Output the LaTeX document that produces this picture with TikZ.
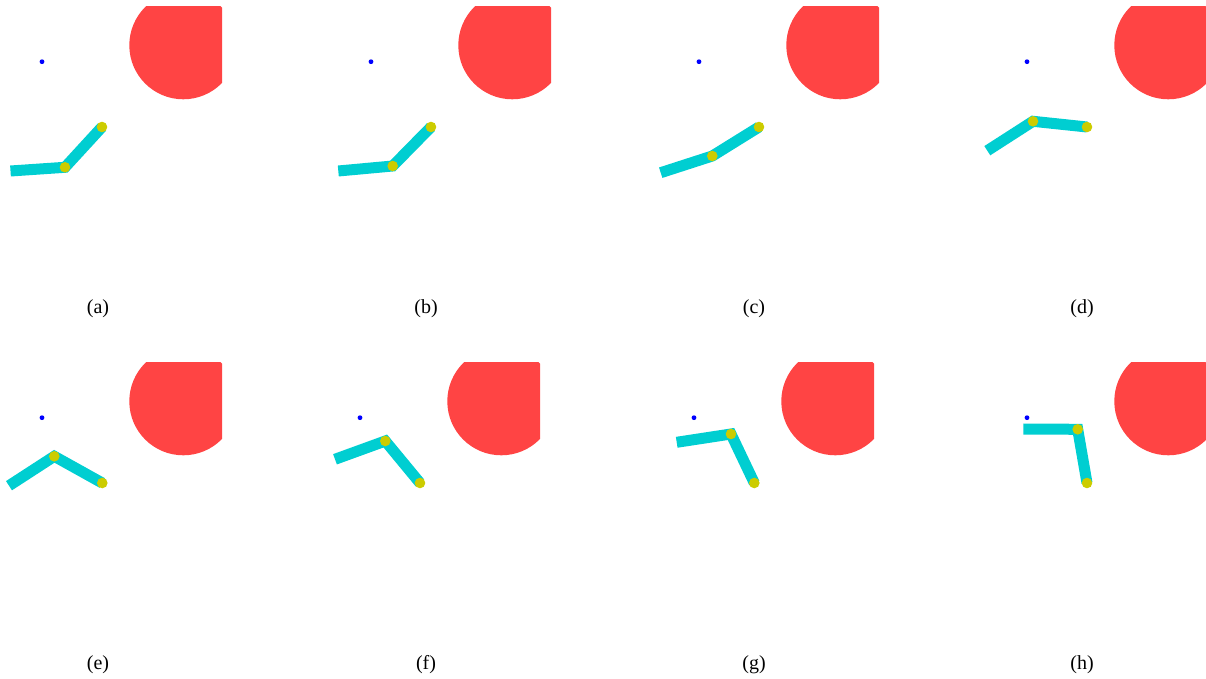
\documentclass[tikz,border=0pt]{standalone}
\usepackage{fontspec}
\setmainfont{Liberation Serif}
\definecolor{obstacle}{HTML}{FF4444}
\definecolor{linkcyan}{HTML}{00CED1}
\definecolor{jointyellow}{HTML}{CCCC00}
\begin{document}
\begin{tikzpicture}[x=0.5pt, y=-0.5pt]
    % Styles
    \tikzstyle{link} = [draw=linkcyan, line width=5.5pt, line cap=butt]
    \tikzstyle{joint} = [circle, fill=jointyellow, inner sep=0pt, minimum size=5.3pt]
    \tikzstyle{target} = [circle, fill=blue, inner sep=0pt, minimum size=2.4pt]
    \tikzstyle{caption} = [font=\normalsize]
    \tikzstyle{panelclip} = []

    \useasboundingbox (0,0) rectangle (1206,679);

    % === TOP ROW ===
    % Panel (a)
    \begin{scope}[shift={(0,0)}]
        \clip (-10,6.7) rectangle (222,290);
        \fill [obstacle] (183.3,45.3) circle [radius=54];
        \node [target] (goala) at (42,61.7) {};
        \coordinate (basea) at (10.5,171);
        \coordinate (elbowa) at (65,167.3);
        \coordinate (tipa) at (102,127);
        \draw [link] (basea) -- (elbowa) -- (tipa);
        \node [joint] (elbowja) at (elbowa) {};
        \node [joint] (tipja) at (tipa) {};
    \end{scope}

    % Panel (b)
    \begin{scope}[shift={(329,0)}]
        \clip (-10,6.7) rectangle (222,290);
        \fill [obstacle] (183.3,45.3) circle [radius=54];
        \node [target] (goalb) at (42,61.7) {};
        \coordinate (baseb) at (9.3,171);
        \coordinate (elbowb) at (63.7,166);
        \coordinate (tipb) at (102,127);
        \draw [link] (baseb) -- (elbowb) -- (tipb);
        \node [joint] (elbowjb) at (elbowb) {};
        \node [joint] (tipjb) at (tipb) {};
    \end{scope}

    % Panel (c)
    \begin{scope}[shift={(657,0)}]
        \clip (-10,6.7) rectangle (222,290);
        \fill [obstacle] (183.3,45.3) circle [radius=54];
        \node [target] (goalc) at (42,61.7) {};
        \coordinate (basec) at (3.7,172.7);
        \coordinate (elbowc) at (55.3,156);
        \coordinate (tipc) at (102,127);
        \draw [link] (basec) -- (elbowc) -- (tipc);
        \node [joint] (elbowjc) at (elbowc) {};
        \node [joint] (tipjc) at (tipc) {};
    \end{scope}

    % Panel (d)
    \begin{scope}[shift={(985,0)}]
        \clip (-10,6.7) rectangle (222,290);
        \fill [obstacle] (183.3,45.3) circle [radius=54];
        \node [target] (goald) at (42,61.7) {};
        \coordinate (based) at (2.3,150.7);
        \coordinate (elbowd) at (48,121.3);
        \coordinate (tipd) at (102,127);
        \draw [link] (based) -- (elbowd) -- (tipd);
        \node [joint] (elbowjd) at (elbowd) {};
        \node [joint] (tipjd) at (tipd) {};
    \end{scope}

    % === BOTTOM ROW ===
    % Panel (e)
    \begin{scope}[shift={(0,356)}]
        \clip (-10,6.7) rectangle (222,290);
        \fill [obstacle] (183.3,45.3) circle [radius=54];
        \node [target] (goale) at (42,61.7) {};
        \coordinate (basee) at (9,129.7);
        \coordinate (elbowe) at (54.3,100.3);
        \coordinate (tipe) at (102.3,127);
        \draw [link] (basee) -- (elbowe) -- (tipe);
        \node [joint] (elbowje) at (elbowe) {};
        \node [joint] (tipje) at (tipe) {};
    \end{scope}

    % Panel (f)
    \begin{scope}[shift={(318,356)}]
        \clip (-10,6.7) rectangle (222,290);
        \fill [obstacle] (183.3,45.3) circle [radius=54];
        \node [target] (goalf) at (42,61.7) {};
        \coordinate (basef) at (17,103.3);
        \coordinate (elbowf) at (67.3,85);
        \coordinate (tipf) at (102,127);
        \draw [link] (basef) -- (elbowf) -- (tipf);
        \node [joint] (elbowjf) at (elbowf) {};
        \node [joint] (tipjf) at (tipf) {};
    \end{scope}

    % Panel (g)
    \begin{scope}[shift={(652,356)}]
        \clip (-10,6.7) rectangle (222,290);
        \fill [obstacle] (183.3,45.3) circle [radius=54];
        \node [target] (goalg) at (42,61.7) {};
        \coordinate (baseg) at (24.7,86.3);
        \coordinate (elbowg) at (79,78);
        \coordinate (tipg) at (102.3,127);
        \draw [link] (baseg) -- (elbowg) -- (tipg);
        \node [joint] (elbowjg) at (elbowg) {};
        \node [joint] (tipjg) at (tipg) {};
    \end{scope}

    % Panel (h)
    \begin{scope}[shift={(985,356)}]
        \clip (-10,6.7) rectangle (222,290);
        \fill [obstacle] (183.3,45.3) circle [radius=54];
        \node [target] (goalh) at (42,61.7) {};
        \coordinate (baseh) at (38.3,73);
        \coordinate (elbowh) at (92.7,73.3);
        \coordinate (tiph) at (102,127);
        \draw [link] (baseh) -- (elbowh) -- (tiph);
        \node [joint] (elbowjh) at (elbowh) {};
        \node [joint] (tipjh) at (tiph) {};
    \end{scope}

    % === Captions ===
    \node [caption] (capa) at (98,309) {(a)};
    \node [caption] (capb) at (426,309) {(b)};
    \node [caption] (capc) at (754,309) {(c)};
    \node [caption] (capd) at (1082,309) {(d)};
    \node [caption] (cape) at (98,665) {(e)};
    \node [caption] (capf) at (426,665) {(f)};
    \node [caption] (capg) at (754,665) {(g)};
    \node [caption] (caph) at (1082,665) {(h)};

\end{tikzpicture}
\end{document}
